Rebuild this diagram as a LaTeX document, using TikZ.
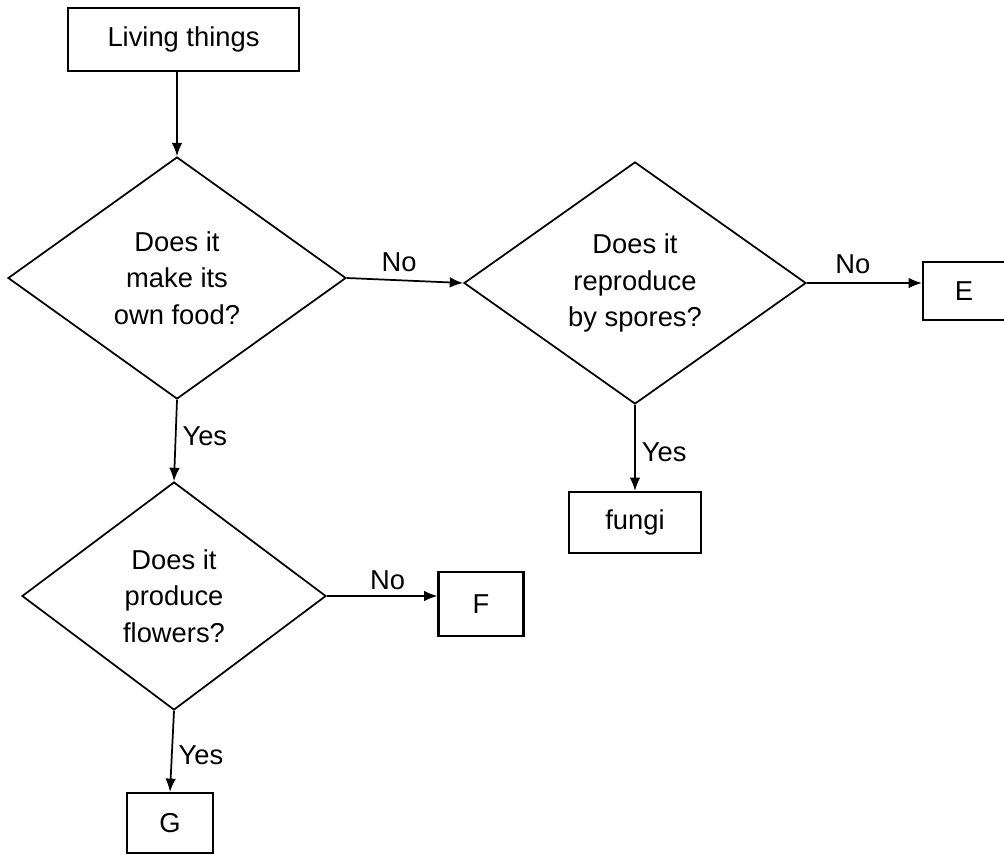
\documentclass[tikz,border=0pt]{standalone}
\usepackage{fontspec}
\setmainfont{Liberation Sans}
\usepackage{tikz}
\usetikzlibrary{arrows.meta,shapes.geometric}
\begin{document}
\begin{tikzpicture}[x=0.75pt,y=-0.75pt]
\tikzstyle{every node}=[inner sep=0pt, font=\fontsize{20.5}{27.5}\selectfont]
\tikzstyle{box}=[draw, rectangle, line width=1.6pt]
\tikzstyle{ask}=[draw, diamond, align=center, line width=1.3pt]
\tikzstyle{arr}=[-{Latex[length=10pt,width=8pt]}, line width=1.3pt]
\useasboundingbox (0,0) rectangle (1004,854);
\draw (183.5,39.5) node (live) [box, minimum width=173.25pt, minimum height=47.25pt] {Living things};
\draw (177,278) node (d1) [ask, minimum width=253.5pt, minimum height=181.5pt] {Does it\\make its\\own food?};
\draw (635,283) node (d2) [ask, minimum width=256.5pt, minimum height=181.5pt] {Does it\\reproduce\\by spores?};
\draw (174,596) node (d3) [ask, minimum width=228pt, minimum height=171pt] {Does it\\produce\\flowers?};
\draw (964,291) node (e) [box, minimum width=61.5pt, minimum height=43.5pt] {E};
\draw (635,522.5) node (fungi) [box, minimum width=99pt, minimum height=45.75pt] {fungi};
\draw (481,604) node (f) [box, minimum width=63.75pt, minimum height=48pt] {F};
\draw (170,823) node (g) [box, minimum width=64.5pt, minimum height=45pt] {G};
\draw[arr] (live.south -| d1.north) -- (d1.north);
\draw[arr] (d1.east) -- node[above=6pt, pos=.45] (no1) {No} (d2.west);
\draw[arr] (d2.east) -- node[above=6.5pt, pos=.4] (no2) {No} (d2.east -| e.west);
\draw[arr] (d1.south) -- node[right=4.5pt, pos=.45] (yes1) {Yes} (d3.north);
\draw[arr] (d2.south) -- node[right=4.5pt, pos=.55] (yes2) {Yes} (fungi.north);
\draw[arr] (d3.east) -- node[above=4pt, pos=.55] (no3) {No} (d3.east -| f.west);
\draw[arr] (d3.south) -- node[right=4.5pt, pos=.55] (yes3) {Yes} (g.north);
\end{tikzpicture}
\end{document}
